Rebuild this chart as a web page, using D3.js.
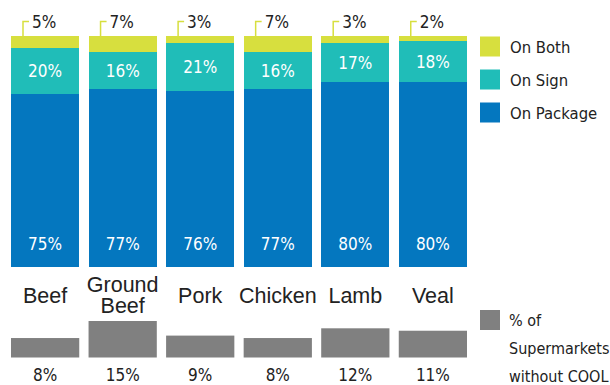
<!DOCTYPE html>
<html>
<head>
<meta charset="utf-8">
<script src="https://cdn.jsdelivr.net/npm/d3@7"></script>
<style>
  body { margin: 0; background: #fff; }
  svg { display: block; }
  .narrow { font-family: "Liberation Sans Narrow", "DejaVu Sans Condensed", sans-serif; }
  .cat { font-family: "Liberation Sans", Arial, sans-serif; }
</style>
</head>
<body>
<script>
var categories = ["Beef", "Ground Beef", "Pork", "Chicken", "Lamb", "Veal"]
var onPackage = [75, 77, 76, 77, 80, 80]
var onSign = [20, 16, 21, 16, 17, 18]
var onBoth = [5, 7, 3, 7, 3, 2]
var withoutCool = [8, 15, 9, 8, 12, 11]
var seriesNames = ["On Both", "On Sign", "On Package"]

var width = 610, height = 385
var colors = { "On Package": "#0477bf", "On Sign": "#20bdb8", "On Both": "#d7df3e" }

var svg = d3.select("body").append("svg")
    .attr("width", width)
    .attr("height", height)

var x = d3.scaleBand()
    .domain(categories)
    .range([11, 467])
    .paddingInner(0.12)
    .paddingOuter(0)

var y = d3.scaleLinear().domain([0, 100]).range([267, 36])
var y2 = d3.scaleLinear().domain([0, 15]).range([357.5, 321])

// stack table, package at bottom
var table = categories.map((c, i) => ({
    cat: c,
    "On Package": onPackage[i],
    "On Sign": onSign[i],
    "On Both": onBoth[i]
}))
var stack = d3.stack().keys(["On Package", "On Sign", "On Both"])(table)

var layers = svg.append("g").selectAll("g")
    .data(stack)
    .enter().append("g")
    .attr("fill", d => colors[d.key])

layers.selectAll("rect")
    .data(d => d)
    .enter().append("rect")
    .attr("x", d => x(d.data.cat))
    .attr("y", d => y(d[1]))
    .attr("width", x.bandwidth())
    .attr("height", d => y(d[0]) - y(d[1]))
    .attr("shape-rendering", "crispEdges")

// package labels near bottom
svg.append("g").selectAll("text")
    .data(stack[0])
    .enter().append("text")
    .attr("class", "narrow")
    .attr("x", d => x(d.data.cat) + x.bandwidth() / 2)
    .attr("y", y(0) - 17)
    .attr("text-anchor", "middle")
    .attr("font-size", 17)
    .attr("fill", "#fff")
    .text(d => (d[1] - d[0]) + "%")

// sign labels centered in segment
svg.append("g").selectAll("text")
    .data(stack[1])
    .enter().append("text")
    .attr("class", "narrow")
    .attr("x", d => x(d.data.cat) + x.bandwidth() / 2)
    .attr("y", d => (y(d[0]) + y(d[1])) / 2)
    .attr("dy", "0.36em")
    .attr("text-anchor", "middle")
    .attr("font-size", 17)
    .attr("fill", "#fff")
    .text(d => (d[1] - d[0]) + "%")

// both labels above, with leader
var bothLabels = svg.append("g").selectAll("g")
    .data(stack[2])
    .enter().append("g")
    .attr("transform", d => "translate(" + x(d.data.cat) + ",0)")

bothLabels.append("path")
    .attr("d", d => "M12," + y(d[1]) + "V21.5H18")
    .attr("fill", "none")
    .attr("stroke", colors["On Both"])
    .attr("stroke-width", 1.5)

bothLabels.append("text")
    .attr("class", "narrow")
    .attr("x", 21)
    .attr("y", 28)
    .attr("font-size", 17)
    .attr("fill", "#222")
    .text(d => (d[1] - d[0]) + "%")

// category labels
var catLabels = svg.append("g").selectAll("text")
    .data(categories)
    .enter().append("text")
    .attr("class", "cat")
    .attr("x", d => x(d) + x.bandwidth() / 2)
    .attr("y", d => d.includes(" ") ? 292 : 303)
    .attr("text-anchor", "middle")
    .attr("font-size", 21.5)
    .attr("fill", "#222")

catLabels.each(function(d) {
    var words = d.split(" ")
    var t = d3.select(this)
    words.forEach((w, i) => {
        t.append("tspan")
            .attr("x", x(d) + x.bandwidth() / 2)
            .attr("dy", i ? 21 : 0)
            .text(w)
    })
})

// supermarkets without COOL
svg.append("g").selectAll("rect")
    .data(withoutCool)
    .enter().append("rect")
    .attr("x", (d, i) => x(categories[i]))
    .attr("y", d => y2(d))
    .attr("width", x.bandwidth())
    .attr("height", d => y2(0) - y2(d))
    .attr("fill", "#808080")

svg.append("g").selectAll("text")
    .data(withoutCool)
    .enter().append("text")
    .attr("class", "narrow")
    .attr("x", (d, i) => x(categories[i]) + x.bandwidth() / 2)
    .attr("y", 381)
    .attr("text-anchor", "middle")
    .attr("font-size", 17)
    .attr("fill", "#222")
    .text(d => d + "%")

// legend
var legend = svg.append("g").selectAll("g")
    .data(seriesNames)
    .enter().append("g")
    .attr("transform", (d, i) => "translate(480," + (36.5 + i * 33) + ")")

legend.append("rect")
    .attr("width", 20)
    .attr("height", 20)
    .attr("fill", d => colors[d])

legend.append("text")
    .attr("class", "narrow")
    .attr("x", 30)
    .attr("y", 16)
    .attr("font-size", 16.5)
    .attr("fill", "#222")
    .text(d => d)

var gl = svg.append("g").attr("transform", "translate(480,310)")
gl.append("rect").attr("width", 20).attr("height", 20).attr("fill", "#808080")
gl.append("text")
    .attr("class", "narrow")
    .attr("font-size", 16)
    .attr("fill", "#222")
    .selectAll("tspan")
    .data(["% of", "Supermarkets", "without COOL"])
    .enter().append("tspan")
    .attr("x", 29)
    .attr("y", (d, i) => 16 + i * 28)
    .text(d => d)
</script>
</body>
</html>
